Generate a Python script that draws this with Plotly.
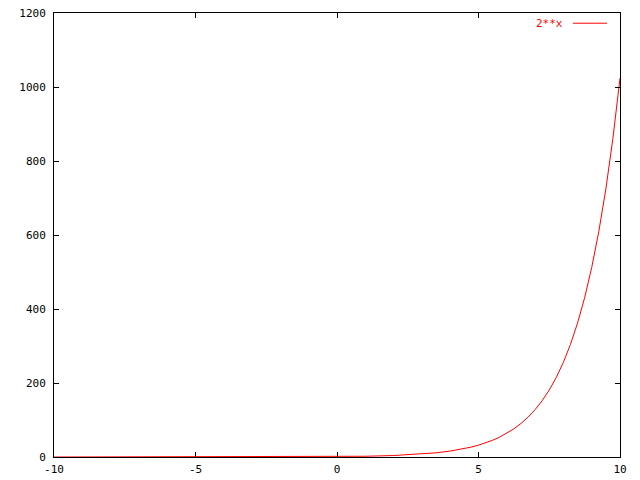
import plotly.graph_objects as go

# Values (curve "2**x")
x_vals = [-10, -9, -8, -7, -6, -5, -4, -3, -2, -1, 0, 1, 2, 3, 3.5,
          4, 4.25, 4.5, 4.75, 5, 5.25, 5.5, 5.75, 6, 6.25, 6.5, 6.75,
          7, 7.25, 7.5, 7.75, 8, 8.25, 8.5, 8.75, 9, 9.25, 9.5, 9.75, 10]
y_vals = [0.001, 0.002, 0.004, 0.008, 0.016, 0.031, 0.063, 0.125, 0.25, 0.5,
          1, 2, 4, 8, 11.3,
          16, 19.0, 22.6, 26.9, 32, 38.1, 45.3, 53.8, 64, 76.1, 90.5, 107.6,
          128, 152.2, 181.0, 215.3, 256, 304.4, 362.0, 430.5, 512, 608.9,
          724.1, 861.1, 1024]
series_name = "2**x"
x_ticks = [-10, -5, 0, 5, 10]
y_ticks = [0, 200, 400, 600, 800, 1000, 1200]

FONT = "DejaVu Sans Mono"

fig = go.Figure()
fig.add_trace(go.Scatter(x=x_vals, y=y_vals, mode="lines",
                         line=dict(color="#ff0000", width=1),
                         name=series_name, showlegend=False,
                         hoverinfo="skip"))

axis_common = dict(showgrid=False, zeroline=False, showline=True,
                   linecolor="black", linewidth=1, mirror="ticks",
                   ticks="inside", ticklen=5, tickcolor="black", tickwidth=1,
                   automargin=False, ticklabeloverflow="allow",
                   tickfont=dict(family=FONT, size=11, color="black"))

fig.update_xaxes(range=[-10, 10], tickvals=x_ticks,
                 ticktext=[str(v) for v in x_ticks],
                 ticklabelstandoff=2, **axis_common)
fig.update_yaxes(range=[0, 1200], tickvals=y_ticks,
                 ticktext=[str(v) for v in y_ticks],
                 ticklabelstandoff=5, **axis_common)

# Legend drawn gnuplot-style: text then line sample
fig.add_annotation(x=0.903, y=0.977, xref="paper", yref="paper",
                   text=series_name, showarrow=False, xanchor="right",
                   yanchor="middle",
                   font=dict(family=FONT, size=11, color="#ff0000"))
fig.add_shape(type="line", xref="paper", yref="paper",
              x0=0.917, x1=0.977, y0=0.977, y1=0.977,
              line=dict(color="#ff0000", width=1))

fig.update_layout(width=640, height=480,
                  margin=dict(l=54, r=20, t=13, b=23, pad=0),
                  plot_bgcolor="white", paper_bgcolor="white",
                  showlegend=False)

# Remove the default page margin so the figure fills the window exactly
fig.write_html("out.html", config={"displayModeBar": False},
               post_script="document.body.style.margin='0';")
